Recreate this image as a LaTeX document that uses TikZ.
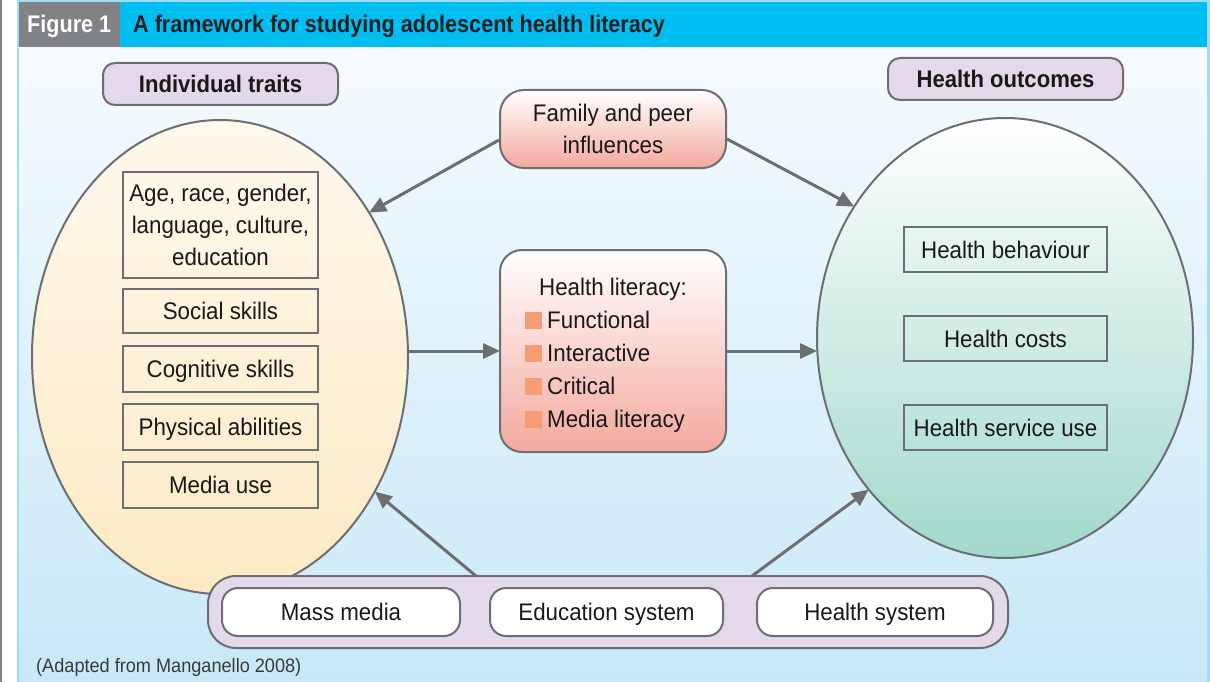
\documentclass[tikz,border=0pt]{standalone}
\usepackage{fontspec}
\setmainfont{Liberation Sans}
\newfontfamily\bodyfont[FakeStretch=0.93]{Liberation Sans}
\newfontfamily\boldfont[FakeStretch=0.9]{Liberation Sans Bold}
\newfontfamily\tagfont[FakeStretch=0.92]{Liberation Sans Bold}
\usetikzlibrary{shapes.geometric,arrows.meta,calc}
\definecolor{edge}{HTML}{6D6E71}
\definecolor{cyanbar}{HTML}{00BDF2}
\definecolor{graybox}{HTML}{808285}
\definecolor{lblue}{HTML}{9FDCF5}
\definecolor{bgtop}{HTML}{F6FBFE}
\definecolor{bgbot}{HTML}{C8E8F8}
\definecolor{yelbot}{HTML}{FDEAC4}
\definecolor{tealbot}{HTML}{A2D9CB}
\definecolor{salbot}{HTML}{F4A99E}
\definecolor{lav}{HTML}{E4D9EA}
\definecolor{bullet}{HTML}{F79C74}
\definecolor{captext}{HTML}{3A3A3A}
\tikzset{
  body/.style={font=\bodyfont\fontsize{24}{32}\selectfont, text=black!90},
  one/.style={text height=17pt, text depth=0pt},
  item/.style={body, draw=edge, line width=2pt, minimum width=195pt, inner sep=0pt, align=center},
  ritem/.style={item, one, minimum width=203pt, minimum height=45pt},
  tag/.style={draw=edge, line width=2pt, fill=lav, rounded corners=12pt, minimum width=235pt, minimum height=42pt, inner sep=0pt, text height=17pt, text depth=0pt, font=\tagfont\fontsize{24}{28}\selectfont, text=black!90},
  pill/.style={draw=edge, line width=2pt, fill=white, rounded corners=16pt, minimum height=48pt, inner sep=0pt, body, one},
  arr/.style={draw=edge, line width=3pt, -{Triangle[length=17pt,width=15pt]}, shorten >=-1pt},
  blt/.style={fill=bullet, minimum size=17pt, inner sep=0pt},
  hli/.style={body, one, anchor=west, inner sep=0pt},
}
\begin{document}
\begin{tikzpicture}[x=1pt,y=-1pt]
\useasboundingbox (0,0) rectangle (1210,682);
% frame
\fill[white] (0,0) rectangle (1210,682);
\fill[graybox] (0,0) rectangle (2,682);
\fill[lblue] (17,0) rectangle (1210,682);
\shade[top color=bgtop, bottom color=bgbot] (19,47) rectangle (1207,682);
\fill[graybox] (19,2) rectangle (120,47);
\fill[cyanbar] (120,2) rectangle (1207,47);
\node[anchor=west, font=\boldfont\fontsize{24}{28}\selectfont, text=white, text height=17pt, text depth=0pt, inner sep=0pt] (fig) at (27,24) {Figure 1};
\node[anchor=west, font=\boldfont\fontsize{24}{28}\selectfont, text=black!88, text height=17pt, text depth=0pt, inner sep=0pt] (title) at (133,24) {A framework for studying adolescent health literacy};
% ellipses
\node[ellipse, draw=edge, line width=2pt, top color=white!70!yelbot, bottom color=yelbot, minimum width=376pt, minimum height=474pt, inner sep=0pt] (L) at (220,357) {};
\node[ellipse, draw=edge, line width=2pt, top color=white, bottom color=tealbot, minimum width=376pt, minimum height=440pt, inner sep=0pt] (R) at (1005,338) {};
% tags
\node[tag] (it) at (220.5,84) {Individual traits};
\node[tag] (ho) at (1005.5,79) {Health outcomes};
% left items
\node[item, minimum height=106pt] (a1) at (220.5,225) {Age, race, gender,\\language, culture,\\education};
\node[item, one, minimum height=44pt] (a2) at (220.5,311) {Social skills};
\node[item, one, minimum height=46pt] (a3) at (220.5,369) {Cognitive skills};
\node[item, one, minimum height=46pt] (a4) at (220.5,427) {Physical abilities};
\node[item, one, minimum height=46pt] (a5) at (220.5,485) {Media use};
% right items
\node[ritem] (b1) at (1005.5,249.5) {Health behaviour};
\node[ritem] (b2) at (1005.5,338.5) {Health costs};
\node[ritem] (b3) at (1005.5,427.5) {Health service use};
% center boxes
\node[draw=edge, line width=2pt, top color=white, bottom color=salbot, rounded corners=24pt, minimum width=226pt, minimum height=78pt, body, align=center, inner sep=0pt] (fam) at (613,129) {Family and peer\\influences};
\node[draw=edge, line width=2pt, top color=white, bottom color=salbot, rounded corners=22pt, minimum width=226pt, minimum height=202pt, inner sep=0pt] (hl) at (613,351) {};
\node[body, one, inner sep=0pt] (hlt) at (613,287) {Health literacy:};
\node[blt] (q1) at (533.5,320) {};
\node[blt] (q2) at (533.5,353) {};
\node[blt] (q3) at (533.5,386) {};
\node[blt] (q4) at (533.5,419) {};
\node[hli] (t1) at (547,320) {Functional};
\node[hli] (t2) at (547,353) {Interactive};
\node[hli] (t3) at (547,386) {Critical};
\node[hli] (t4) at (547,419) {Media literacy};
% bottom container
\node[draw=edge, line width=2pt, fill=lav, rounded corners=28pt, minimum width=800pt, minimum height=72pt] (B) at (608,612) {};
\node[pill, minimum width=238pt] (m1) at (341,612) {Mass media};
\node[pill, minimum width=233pt] (m2) at (606.5,612) {Education system};
\node[pill, minimum width=236pt] (m3) at (875,612) {Health system};
\coordinate (s1) at (476,576);
\coordinate (s2) at (752,576);
% arrows
\draw[arr] ([yshift=-11pt]fam.west) -- (L.44);
\draw[arr] ([yshift=-10pt]fam.east) -- (R.139.5);
\draw[arr] (L.east |- hl.west) -- (hl.west);
\draw[arr] (hl.east) -- (R.west |- hl.east);
\draw[arr] (s1) -- (L.-41);
\draw[arr] (s2) -- (R.-132);
% caption
\node[anchor=west, font=\bodyfont\fontsize{19.5}{22}\selectfont, text=captext, inner sep=0pt] (cap) at (36,667) {(Adapted from Manganello 2008)};
\end{tikzpicture}
\end{document}
